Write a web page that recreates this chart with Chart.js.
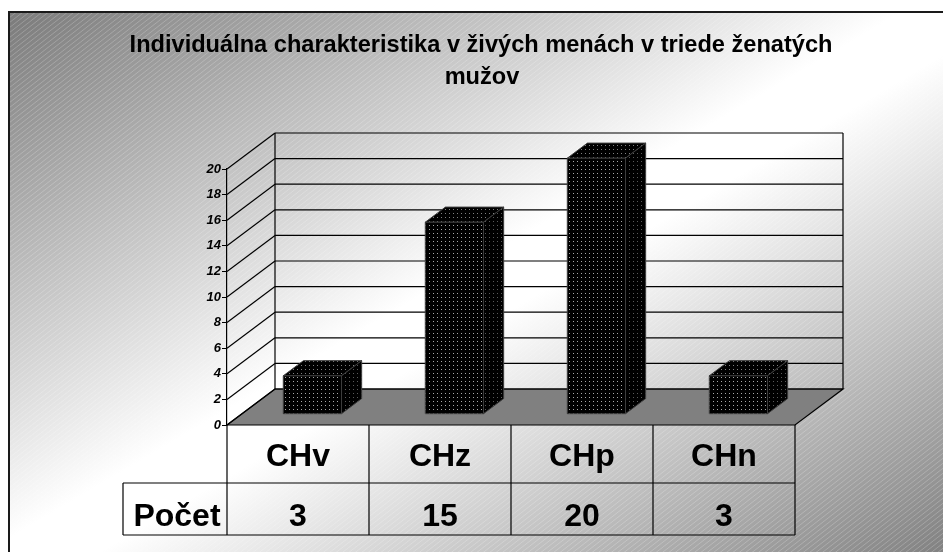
<!DOCTYPE html>
<html>
<head>
<meta charset="utf-8">
<script src="https://cdn.jsdelivr.net/npm/chart.js@4.4.0/dist/chart.umd.min.js"></script>
<style>
    html, body { margin: 0; padding: 0; background: #fff; }
    #wrap { width: 943px; height: 552px; }
</style>
</head>
<body>
<div id="wrap"><canvas id="chart" width="943" height="552"></canvas></div>
<script>
// data
const titleLines = ['Individuálna charakteristika v živých menách v triede ženatých', 'mužov']
const categories = ['CHv', 'CHz', 'CHp', 'CHn']
const seriesName = 'Počet'
const seriesValues = [3, 15, 20, 3]
const yMin = 0
const yMax = 20
const yStep = 2

// 3d look
const DEPTH_X = 48
const DEPTH_Y = -36
const BAR_FRONT = 0.3
const BAR_BACK = 0.72
const FONT = 'Arial, "Liberation Sans", sans-serif'

function dotPattern(ctx, dotColor) {
    const c = document.createElement('canvas')
    c.width = 4
    c.height = 4
    const g = c.getContext('2d')
    g.fillStyle = '#000'
    g.fillRect(0, 0, 4, 4)
    g.fillStyle = dotColor
    g.fillRect(1, 1, 1, 1)
    return ctx.createPattern(c, 'repeat')
}

function poly(ctx, pts) {
    ctx.beginPath()
    ctx.moveTo(pts[0][0], pts[0][1])
    for (let i = 1; i < pts.length; i++) ctx.lineTo(pts[i][0], pts[i][1])
    ctx.closePath()
}

function line(ctx, x1, y1, x2, y2) {
    ctx.beginPath()
    ctx.moveTo(x1, y1)
    ctx.lineTo(x2, y2)
    ctx.stroke()
}

// background gradient, stripes, frame and title
const backgroundPlugin = {
    id: 'backgroundPlugin',
    beforeDraw(chart) {
        const ctx = chart.ctx
        const x0 = 9, y0 = 12, w = 950, h = 560
        ctx.save()
        ctx.fillStyle = '#fff'
        ctx.fillRect(0, 0, chart.width, chart.height)
        const k = 2 * w * h / (w * w + h * h)
        const grad = ctx.createLinearGradient(x0, y0, x0 + k * h, y0 + k * w)
        grad.addColorStop(0, '#7a7a7a')
        grad.addColorStop(0.47, '#ffffff')
        grad.addColorStop(0.53, '#ffffff')
        grad.addColorStop(1, '#7a7a7a')
        ctx.fillStyle = grad
        ctx.fillRect(x0, y0, w, h)

        ctx.beginPath()
        ctx.rect(x0, y0, w, h)
        ctx.clip()
        ctx.strokeStyle = 'rgba(255,255,255,0.22)'
        ctx.lineWidth = 1
        const t = Math.tan(38 * Math.PI / 180)
        ctx.beginPath()
        for (let c = 0; c < chart.height + chart.width * t; c += 5) {
            ctx.moveTo(0, c)
            ctx.lineTo(chart.width, c - chart.width * t)
        }
        ctx.stroke()
        ctx.restore()

        ctx.save()
        ctx.strokeStyle = '#1a1a1a'
        ctx.lineWidth = 2
        ctx.strokeRect(x0, y0, w + 20, h + 20)

        ctx.fillStyle = '#000'
        ctx.font = 'bold 23.6px ' + FONT
        ctx.textAlign = 'center'
        ctx.textBaseline = 'alphabetic'
        ctx.fillText(titleLines[0], 481, 52)
        ctx.fillText(titleLines[1], 482, 84)
        ctx.restore()
    }
}

// walls, floor and grid
const wallsPlugin = {
    id: 'wallsPlugin',
    beforeDatasetsDraw(chart) {
        const ctx = chart.ctx
        const { left, right, top, bottom } = chart.chartArea
        const yScale = chart.scales.y
        ctx.save()
        ctx.strokeStyle = '#000'
        ctx.lineWidth = 1.2

        poly(ctx, [[left, bottom], [left + DEPTH_X, bottom + DEPTH_Y], [right + DEPTH_X, bottom + DEPTH_Y], [right, bottom]])
        ctx.fillStyle = '#808080'
        ctx.fill()
        ctx.stroke()

        yScale.ticks.forEach(tick => {
            const py = yScale.getPixelForValue(tick.value)
            line(ctx, left, py, left + DEPTH_X, py + DEPTH_Y)
            line(ctx, left + DEPTH_X, py + DEPTH_Y, right + DEPTH_X, py + DEPTH_Y)
        })
        line(ctx, left + DEPTH_X, top + DEPTH_Y, left + DEPTH_X, bottom + DEPTH_Y)
        line(ctx, right + DEPTH_X, top + DEPTH_Y, right + DEPTH_X, bottom + DEPTH_Y)
        ctx.restore()
    }
}

// 3d boxes on top of the bar elements
const barsPlugin = {
    id: 'barsPlugin',
    afterDatasetsDraw(chart) {
        const ctx = chart.ctx
        const frontFill = dotPattern(ctx, '#a8a8a8')
        const sideFill = dotPattern(ctx, '#5a5a5a')
        const topFill = dotPattern(ctx, '#808080')
        const fx = BAR_FRONT * DEPTH_X, fy = BAR_FRONT * DEPTH_Y
        const dx = (BAR_BACK - BAR_FRONT) * DEPTH_X, dy = (BAR_BACK - BAR_FRONT) * DEPTH_Y
        ctx.save()
        ctx.strokeStyle = '#3c3c3c'
        ctx.lineWidth = 1
        chart.getDatasetMeta(0).data.forEach(bar => {
            const p = bar.getProps(['x', 'y', 'base', 'width'], true)
            const l = p.x - p.width / 2 + fx
            const r = p.x + p.width / 2 + fx
            const t = p.y + fy
            const b = p.base + fy

            poly(ctx, [[l, t], [l + dx, t + dy], [r + dx, t + dy], [r, t]])
            ctx.fillStyle = topFill
            ctx.fill()
            ctx.stroke()

            poly(ctx, [[r, t], [r + dx, t + dy], [r + dx, b + dy], [r, b]])
            ctx.fillStyle = sideFill
            ctx.fill()
            ctx.stroke()

            poly(ctx, [[l, t], [r, t], [r, b], [l, b]])
            ctx.fillStyle = frontFill
            ctx.fill()
            ctx.stroke()
        })
        ctx.restore()
    }
}

// data table below the floor
const tablePlugin = {
    id: 'tablePlugin',
    afterDraw(chart) {
        const ctx = chart.ctx
        const { left, right, bottom } = chart.chartArea
        const xScale = chart.scales.x
        const cw = (right - left) / categories.length
        const rowTop = bottom, rowMid = bottom + 58, rowEnd = bottom + 110
        const labelLeft = left - 104
        ctx.save()
        ctx.strokeStyle = '#000'
        ctx.lineWidth = 1.2
        line(ctx, left, rowTop, left, rowEnd)
        for (let i = 0; i < categories.length; i++) {
            const xr = left + cw * (i + 1)
            line(ctx, xr, rowTop, xr, rowEnd)
        }
        line(ctx, labelLeft, rowMid, right, rowMid)
        line(ctx, labelLeft, rowEnd, right, rowEnd)
        line(ctx, labelLeft, rowMid, labelLeft, rowEnd)

        ctx.fillStyle = '#000'
        ctx.font = 'bold 32px ' + FONT
        ctx.textAlign = 'center'
        ctx.textBaseline = 'alphabetic'
        categories.forEach((c, i) => {
            const cx = xScale.getPixelForValue(i)
            ctx.fillText(c, cx, rowTop + 41)
            ctx.fillText(String(seriesValues[i]), cx, rowEnd - 9)
        })
        ctx.fillText(seriesName, (labelLeft + left) / 2 + 2, rowEnd - 9)
        ctx.restore()
    }
}

function drawChart() {
    const ctx = document.getElementById('chart').getContext('2d')
    return new Chart(ctx, {
        type: 'bar',
        data: {
            labels: categories,
            datasets: [{
                label: seriesName,
                data: seriesValues,
                backgroundColor: 'rgba(0,0,0,0)',
                borderWidth: 0,
                barPercentage: 0.41,
                categoryPercentage: 1
            }]
        },
        options: {
            responsive: false,
            animation: false,
            layout: { padding: { top: 169, bottom: 127, left: 0, right: 148 } },
            plugins: {
                legend: { display: false },
                title: { display: false },
                tooltip: { enabled: false }
            },
            scales: {
                x: { display: false },
                y: {
                    min: yMin,
                    max: yMax,
                    ticks: {
                        stepSize: yStep,
                        color: '#000',
                        padding: 1,
                        font: { family: FONT, size: 13, style: 'italic', weight: 'bold' }
                    },
                    grid: { drawOnChartArea: false, drawTicks: true, tickLength: 5, color: '#000' },
                    border: { display: true, color: '#000', width: 1.2 },
                    afterFit: scale => { scale.width = 227 }
                }
            }
        },
        plugins: [backgroundPlugin, wallsPlugin, barsPlugin, tablePlugin]
    })
}

drawChart()
</script>
</body>
</html>
